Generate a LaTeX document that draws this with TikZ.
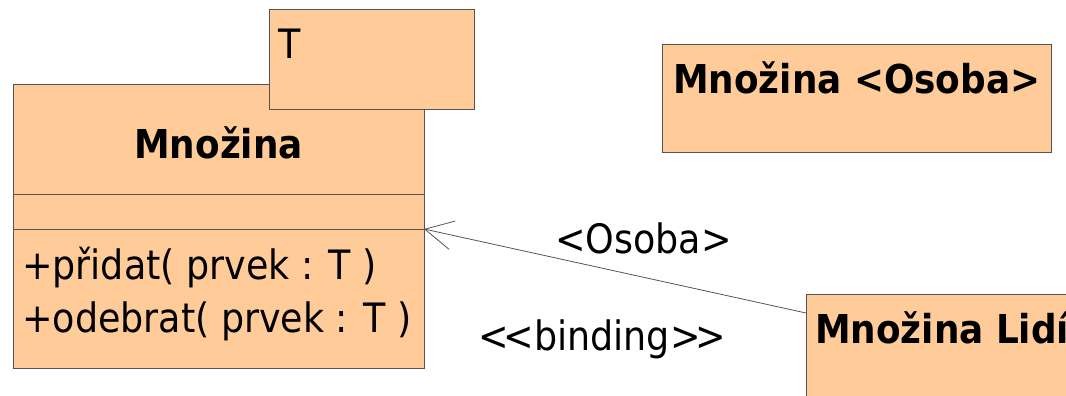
\documentclass[tikz,border=0pt]{standalone}
\usepackage{fontspec}
\setmainfont{DejaVu Sans Condensed}[Ligatures=NoCommon]
\usetikzlibrary{arrows.meta}
\definecolor{peach}{HTML}{FFCC99}
\definecolor{edge}{HTML}{555555}
\begin{document}
\begin{tikzpicture}[x=1pt,y=-1pt,
  box/.style={draw=edge, fill=peach, line width=0.9pt, inner sep=0pt, anchor=north west},
  txt/.style={inner sep=0pt, font=\fontsize{40.5}{48}\selectfont},
  btxt/.style={inner sep=0pt, font=\fontsize{39.8}{48}\selectfont\bfseries},
  conn/.style={draw=edge, line width=0.8pt},
  barb/.style={-{Straight Barb[length=28pt,width=29pt,line width=0.8pt]}}]
\useasboundingbox (0,0) rectangle (1066,396);
\clip (0,0) rectangle (1066,396);
% main class
\node[box, minimum width=411pt, minimum height=284pt] (mnozina) at (13,84) {};
\draw[draw=edge, line width=0.9pt] (13,194) coordinate (d1w) -- (424,194) coordinate (d1e);
\draw[draw=edge, line width=0.9pt] (13,229) coordinate (d2w) -- (424,229) coordinate (d2e);
\node[btxt, anchor=base] (title) at (218.5,158) {Množina};
\node[txt, anchor=base west] (op1) at (22,279) {+přidat( prvek : T )};
\node[txt, anchor=base west] (op2) at (22,332) {+odebrat( prvek : T )};
% template parameter box
\node[box, minimum width=205pt, minimum height=100pt] (tparam) at (269,9) {};
\node[txt, anchor=base west] (tlabel) at (278,59) {T};
% bound class
\node[box, minimum width=389pt, minimum height=108pt] (osoba) at (662,44) {};
\node[btxt, anchor=base west] (osobalabel) at (673,93) {Množina <Osoba>};
% Množina Lidí
\node[box, minimum width=280pt, minimum height=120pt] (lidi) at (806,294) {};
\node[btxt, anchor=base west] (lidilabel) at (815,343) {Množina Lidí};
\coordinate (lidiw) at (806,313);
% binding connector
\draw[conn, barb] (lidiw) -- (d2e);
\node[txt, anchor=base west] (arg) at (555,253) {<Osoba>};
\node[txt, anchor=base west] (bind) at (478,350) {<\kern-5pt<binding>\kern-5pt>};
\end{tikzpicture}
\end{document}
